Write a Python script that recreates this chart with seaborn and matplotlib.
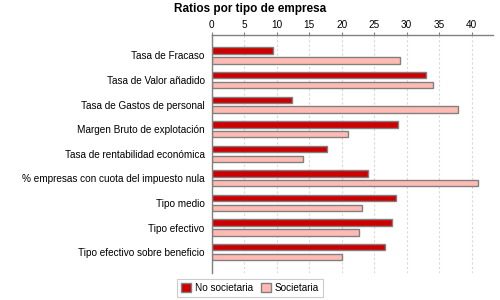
import pandas as pd
import seaborn as sns
import matplotlib.pyplot as plt

# Values
categories = [
    "Tasa de Fracaso",
    "Tasa de Valor añadido",
    "Tasa de Gastos de personal",
    "Margen Bruto de explotación",
    "Tasa de rentabilidad económica",
    "% empresas con cuota del impuesto nula",
    "Tipo medio",
    "Tipo efectivo",
    "Tipo efectivo sobre beneficio",
]
no_societaria = [9.5, 32.9, 12.4, 28.7, 17.7, 24.0, 28.4, 27.8, 26.7]
societaria = [29.0, 34.0, 37.9, 21.0, 14.0, 41.0, 23.2, 22.6, 20.0]
series_names = ["No societaria", "Societaria"]
colors = ["#cc0000", "#ffbbb3"]

df = pd.DataFrame({
    "ratio": categories * 2,
    "valor": no_societaria + societaria,
    "tipo": [series_names[0]] * len(categories) + [series_names[1]] * len(categories),
})

sns.set_style("white")
plt.rcParams["font.family"] = ["Liberation Sans", "DejaVu Sans"]
plt.rcParams["text.color"] = "black"
plt.rcParams["xtick.color"] = "black"
plt.rcParams["ytick.color"] = "black"

fig = plt.figure(figsize=(5, 3), dpi=100)
ax = fig.add_axes([0.423, 0.09, 0.562, 0.793])

sns.barplot(data=df, y="ratio", x="valor", hue="tipo", orient="h",
            palette=colors, saturation=1, width=0.8, gap=0.35,
            edgecolor="#808080", linewidth=1, ax=ax)

ax.set_xlim(0, 43.2)
ax.set_ylim(len(categories) - 1 + 0.85, -0.83)
ax.set_xticks(range(0, 45, 5))
ax.xaxis.tick_top()
ax.set_xlabel("")
ax.set_ylabel("")
ax.tick_params(axis="x", labelsize=7.2, length=2, color="#808080", pad=2)
ax.tick_params(axis="y", labelsize=7.2, length=0, pad=5)

# dashed vertical grid
ax.grid(axis="x", color="#d8d8d8", linestyle=(0, (2, 2)), linewidth=0.8)
ax.set_axisbelow(True)

for side in ["right", "bottom"]:
    ax.spines[side].set_visible(False)
for side in ["top", "left"]:
    ax.spines[side].set_color("#808080")
    ax.spines[side].set_linewidth(1)

ax.legend_.remove()
handles, labels = ax.get_legend_handles_labels()
leg = fig.legend(handles, labels, loc="center", bbox_to_anchor=(0.5, 0.04),
                 ncol=2, fontsize=7.2, frameon=True, fancybox=False,
                 handlelength=1.0, handleheight=1.0, handletextpad=0.4,
                 columnspacing=0.8, borderpad=0.4)
leg.get_frame().set_edgecolor("#c0c0c0")
leg.get_frame().set_linewidth(0.8)

fig.suptitle("Ratios por tipo de empresa", x=0.5, y=0.99, fontsize=8.5,
             fontweight="bold", va="top")

fig.savefig("out.png", dpi=100)
